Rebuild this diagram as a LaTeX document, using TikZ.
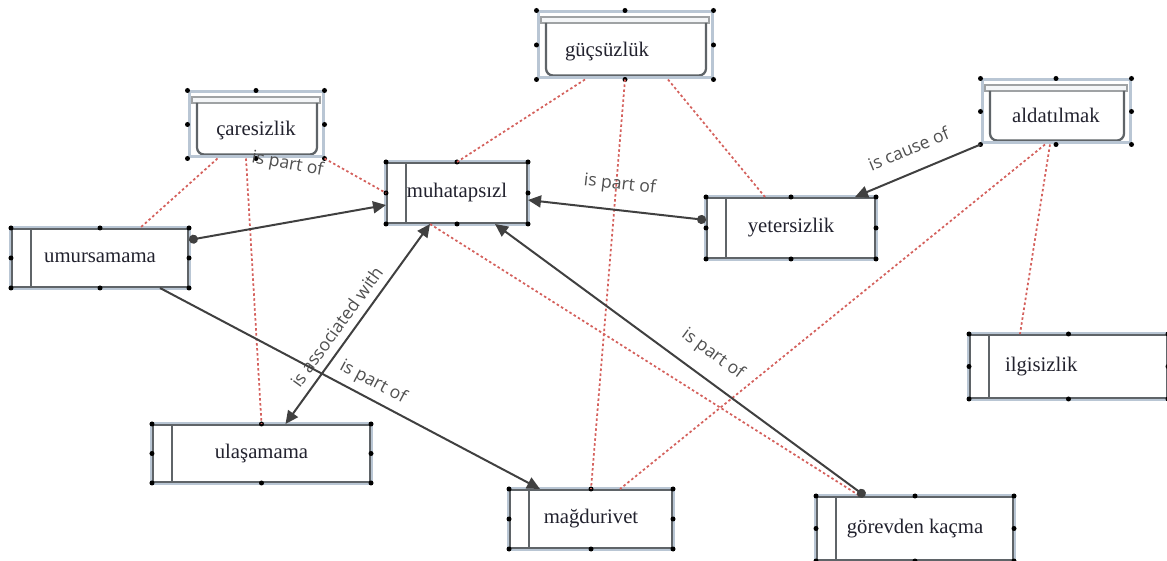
\documentclass[tikz,border=0pt]{standalone}
\usepackage{fontspec}
\setmainfont{Liberation Serif}
\newfontfamily\lblfont{Open Sans}
\usetikzlibrary{arrows.meta, calc}
\definecolor{frameblue}{HTML}{B9C6D4}
\definecolor{boxgray}{HTML}{5F6468}
\definecolor{barwhite}{HTML}{F4F6F8}
\definecolor{textdk}{HTML}{22222E}
\definecolor{lblgray}{HTML}{505050}
\definecolor{linegray}{HTML}{404040}
\definecolor{reddot}{HTML}{D4605C}
\tikzset{
  conceptfont/.style = {font=\fontsize{11.8}{13}\selectfont, text=textdk},
  stripebox/.style   = {rectangle, conceptfont, fill=white,
                        draw=boxgray, line width=0.4mm,
                        preaction={draw=frameblue, line width=1.3mm},
                        path picture={\draw[boxgray, line width=0.4mm]
                          ([xshift=3.8mm]path picture bounding box.north west) --
                          ([xshift=3.8mm]path picture bounding box.south west);}},
  roundbox/.style    = {rectangle, conceptfont, fill=white,
                        draw=frameblue, line width=0.6mm,
                        text height=5.5mm, text depth=0.9mm,
                        path picture={
                          \draw[boxgray!60, line width=0.3mm, fill=barwhite]
                            ([shift={(0.6mm,-1.0mm)}]path picture bounding box.north west) rectangle
                            ([shift={(-0.6mm,-2.2mm)}]path picture bounding box.north east);
                          \draw[boxgray, line width=0.45mm, rounded corners=1.4mm]
                            ([shift={(1.6mm,-2.2mm)}]path picture bounding box.north west)
                            |- ([shift={(-1.2mm,0.5mm)}]path picture bounding box.south east)
                            -- ([shift={(-1.2mm,-2.2mm)}]path picture bounding box.north east);}},
  handle/.style      = {fill=black},
  reldash/.style     = {draw=reddot, line width=0.35mm, dash pattern=on 0.5mm off 0.5mm},
  relarrow/.style    = {draw=linegray, line width=0.4mm,
                        -{Triangle[length=2.6mm, width=2.4mm]}},
  reldot/.style      = {relarrow,
                        {Circle[length=1.8mm]}-{Triangle[length=2.6mm, width=2.4mm]}},
  relboth/.style     = {relarrow,
                        {Triangle[length=2.6mm, width=2.4mm]}-{Triangle[length=2.6mm, width=2.4mm]}},
  lbl/.style         = {font=\lblfont\fontsize{10}{12}\selectfont, text=lblgray,
                        inner sep=1pt},
}
\newcommand{\handles}[1]{%
  \foreach \a in {north west, north, north east, east, south east, south, south west, west}
    \fill[handle] (#1.\a) circle (0.5mm);}

\begin{document}
\begin{tikzpicture}[x=0.2mm, y=-0.2mm]
  \useasboundingbox (0,0) rectangle (1167,561);

  % concepts
  \node[roundbox, minimum width=34.8mm, minimum height=13.2mm,
        inner xsep=5.4mm, text width=24mm, align=left] (guc) at (625,45) {güçsüzlük};
  \node[roundbox, minimum width=26.8mm, minimum height=13mm] (care) at (256,124.5) {çaresizlik};
  \node[roundbox, minimum width=29.6mm, minimum height=12.6mm] (aldat) at (1056,111.5) {aldatılmak};
  \node[stripebox, minimum width=28mm, minimum height=12mm] (muhat) at (457,193) {muhatapsızl};
  \node[stripebox, minimum width=35.2mm, minimum height=11.6mm] (umur) at (100,258) {umursamama};
  \node[stripebox, minimum width=33.6mm, minimum height=12mm] (yeter) at (791,228) {yetersizlik};
  \node[stripebox, minimum width=39.4mm, minimum height=12.6mm,
        inner xsep=7mm, text width=25.4mm, align=left] (ilgi) at (1068.5,366.5) {ilgisizlik};
  \node[stripebox, minimum width=43.4mm, minimum height=11.4mm] (ulas) at (261.5,453.5) {ulaşamama};
  \node[stripebox, minimum width=32.4mm, minimum height=11.6mm] (magd) at (591,519) {mağdurivet};
  \node[stripebox, minimum width=39.2mm, minimum height=12.6mm] (gorev) at (915,528.5) {görevden kaçma};
  \foreach \n in {guc, care, aldat, muhat, umur, yeter, ilgi, ulas, magd, gorev}
    \handles{\n};

  % dotted links
  \draw[reldash] ([xshift=-8mm]guc.south) -- (muhat.north);
  \draw[reldash] (guc.south) -- (magd.north);
  \draw[reldash] ([xshift=8.6mm]guc.south) -- ([xshift=-5.2mm]yeter.north);
  \draw[reldash] ([xshift=6mm]care.south west) -- ([xshift=8mm]umur.north);
  \draw[reldash] ([xshift=-2mm]care.south) -- (ulas.north);
  \draw[reldash] (care.south east) -- (muhat.west);
  \draw[reldash] ([xshift=-5.4mm]muhat.south) -- ([xshift=-11mm]gorev.north);
  \draw[reldash] ([xshift=-2.2mm]aldat.south) -- ([xshift=5.8mm]magd.north);
  \draw[reldash] ([xshift=-1.2mm]aldat.south) -- ([xshift=-9.7mm]ilgi.north);

  % labelled relations
  \draw[reldot] ([yshift=3.6mm]umur.east) --
    node[lbl, midway, yshift=11.6mm, rotate=-10] (lpa) {is part of}
    ([yshift=-2.4mm]muhat.west);
  \draw[reldot] ([yshift=1.6mm]yeter.west) --
    node[lbl, midway, sloped, above=2.8mm] (lpb) {is part of}
    ([yshift=-1.4mm]muhat.east);
  \draw[relarrow] (aldat.south west) --
    node[lbl, midway, sloped, above=2.8mm] (lca) {is cause of}
    ([xshift=12.8mm]yeter.north);
  \draw[relboth] ([xshift=-5.4mm]muhat.south) --
    node[lbl, pos=0.56, sloped, above=1.2mm] (las) {is associated with}
    ([xshift=4.8mm]ulas.north);
  \draw[relarrow] ([xshift=12mm]umur.south) --
    node[lbl, pos=0.54, sloped, above=1mm] (lpc) {is part of}
    ([xshift=-10.2mm]magd.north);
  \draw[reldot] ([xshift=-10mm]gorev.north) --
    node[lbl, pos=0.45, sloped, above=2.5mm] (lpd) {is part of}
    ([xshift=7.6mm]muhat.south);
\end{tikzpicture}
\end{document}
